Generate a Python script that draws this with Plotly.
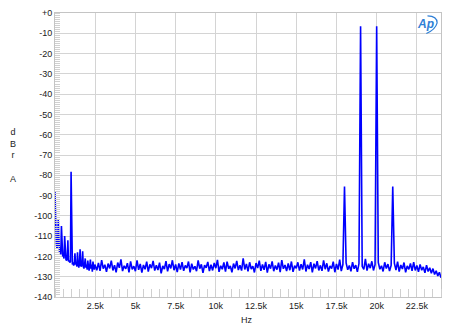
import plotly.graph_objects as go

# ---- data ----
low_freqs_hz = list(range(0, 2500, 40))
low_levels_dbra = [
    -88.0, -110.0, -114.0, -116.0, -115.0, -102.0, -117.0, -118.0, -117.5, -119.0,
    -105.0, -119.0, -120.0, -119.5, -121.0, -110.0, -121.0, -121.5, -122.0, -121.0,
    -112.0, -122.5, -122.0, -123.0, -122.5, -78.3, -123.0, -124.0, -123.0, -124.5,
    -123.5, -118.5, -124.0, -123.5, -125.0, -118.0, -124.0, -125.5, -123.5, -116.5,
    -124.5, -125.0, -123.5, -117.5, -125.0, -126.0, -124.0, -121.0, -125.5, -124.0,
    -126.5, -122.0, -125.0, -127.0, -124.5, -121.5, -126.0, -124.0, -127.5, -122.5,
    -125.0, -126.5, -124.0,
]

floor_freqs_hz = list(range(2500, 24001, 100))
floor_levels_dbra = [
    -124.5, -126.8, -123.2, -127.1, -121.8, -126.0, -124.1, -127.6, -123.5, -125.9,
    -122.1, -126.9, -124.3, -127.8, -123.0, -125.6, -121.5, -127.2, -124.6, -126.1,
    -123.3, -127.9, -122.4, -126.4, -124.8, -127.3, -121.9, -126.6, -123.7, -128.0,
    -124.2, -126.3, -122.6, -127.5, -123.9, -125.8, -122.2, -127.0, -124.4, -126.7,
    -123.1, -128.3, -124.7, -126.2, -122.3, -127.4, -123.8, -125.9, -121.9, -126.8,
    -124.0, -127.7, -123.4, -126.5, -122.8, -127.1, -124.5, -125.7, -122.5, -127.9,
    -123.6, -126.4, -124.9, -127.3, -122.0, -126.0, -123.9, -128.1, -124.3, -125.6,
    -122.7, -127.2, -124.1, -126.9, -123.2, -125.8, -121.7, -127.6, -124.6, -126.3,
    -123.0, -127.5, -122.6, -126.1, -124.7, -127.8, -123.5, -125.9, -122.2, -126.7,
    -124.3, -127.0, -120.9, -126.4, -123.7, -127.4, -122.9, -126.2, -124.8, -127.9,
    -123.3, -125.7, -122.1, -127.1, -124.0, -126.6, -122.7, -128.0, -123.9, -126.0,
    -122.4, -127.3, -124.5, -126.5, -123.1, -127.7, -121.8, -126.1, -124.2, -127.2,
    -123.5, -126.8, -122.5, -127.6, -124.6, -125.8, -122.9, -127.0, -123.8, -126.4,
    -121.4, -127.4, -124.1, -126.2, -122.8, -127.9, -123.6, -125.9, -122.3, -126.9,
    -124.4, -127.1, -122.0, -126.3, -123.4, -127.5, -124.7, -126.0, -122.6, -127.8,
    -123.7, -126.5, -121.6, -127.2, -124.0, -85.5, -123.2, -126.6, -124.5, -127.3,
    -122.8, -126.1, -124.3, -127.6, -123.5, -6.5, -124.9, -126.4, -121.2, -127.0,
    -123.6, -125.8, -122.4, -126.9, -124.1, -6.5, -123.0, -126.3, -124.6, -127.4,
    -122.9, -126.0, -123.8, -127.2, -124.4, -85.5, -123.3, -126.7, -122.6, -127.5,
    -124.2, -126.2, -123.0, -127.8, -124.7, -126.4, -123.5, -127.1, -122.8, -126.9,
    -124.5, -127.6, -123.9, -126.8, -125.2, -128.1, -124.3, -127.4, -125.6, -128.3,
    -126.0, -128.9, -127.1, -129.6, -127.8, -130.5,
]

x_tick_vals = [2500, 5000, 7500, 10000, 12500, 15000, 17500, 20000, 22500]
x_tick_text = ["2.5k", "5k", "7.5k", "10k", "12.5k", "15k", "17.5k", "20k", "22.5k"]
y_tick_vals = [0, -10, -20, -30, -40, -50, -60, -70, -80, -90, -100, -110, -120, -130, -140]
y_tick_text = ["+0", "-10", "-20", "-30", "-40", "-50", "-60", "-70", "-80", "-90",
               "-100", "-110", "-120", "-130", "-140"]

freqs = low_freqs_hz + floor_freqs_hz
levels = low_levels_dbra + floor_levels_dbra

font_family = "Liberation Sans, Arial, sans-serif"
grid_col = "#d4d4d4"

fig = go.Figure()
fig.add_trace(go.Scatter(x=freqs, y=levels, mode="lines",
                         line=dict(color="#0000ff", width=1.6),
                         hoverinfo="skip", showlegend=False))

fig.update_layout(
    width=450, height=328,
    margin=dict(l=55, r=9, t=8, b=31),
    paper_bgcolor="white", plot_bgcolor="white",
    font=dict(family=font_family, size=9, color="#222222"),
    showlegend=False,
)
fig.update_xaxes(
    range=[0, 24000], tickvals=x_tick_vals, ticktext=x_tick_text,
    showgrid=True, gridcolor=grid_col, gridwidth=1,
    showline=True, linecolor="#c4c4c4", linewidth=1, mirror=True,
    ticks="", zeroline=False,
    minor=dict(dtick=500, ticks="inside", ticklen=8, tickcolor="#cfcfcf", showgrid=False),
    tickfont=dict(size=9, color="#222222"),
)
fig.update_yaxes(
    range=[-140, 0], tickvals=y_tick_vals, ticktext=y_tick_text,
    showgrid=True, gridcolor=grid_col, gridwidth=1,
    showline=True, linecolor="#c4c4c4", linewidth=1, mirror=True,
    ticks="", zeroline=False,
    minor=dict(dtick=1, ticks="inside", ticklen=5, tickcolor="#d0d0d0", showgrid=False),
    tickfont=dict(size=9, color="#222222"),
)

fig.add_annotation(text="d<br>B<br>r<br><br>A", xref="paper", yref="paper",
                   x=-0.11, y=0.50, xanchor="center", yanchor="middle",
                   showarrow=False, font=dict(size=9, color="#222222"))
fig.add_annotation(text="Hz", xref="paper", yref="paper",
                   x=0.497, y=-0.055, xanchor="center", yanchor="top",
                   showarrow=False, font=dict(size=9, color="#222222"))
fig.add_annotation(text="<b><i>Ap</i></b>", xref="paper", yref="paper",
                   x=0.96, y=0.962, xanchor="center", yanchor="middle",
                   showarrow=False, font=dict(size=12, color="#2f7fd6"))
fig.add_shape(type="path", xref="paper", yref="paper",
              path="M 0.962 0.928 Q 0.985 0.94 0.99 0.965 Q 0.99 0.99 0.965 0.99",
              line=dict(color="#2f7fd6", width=1.2))

fig.write_html("out.html")
